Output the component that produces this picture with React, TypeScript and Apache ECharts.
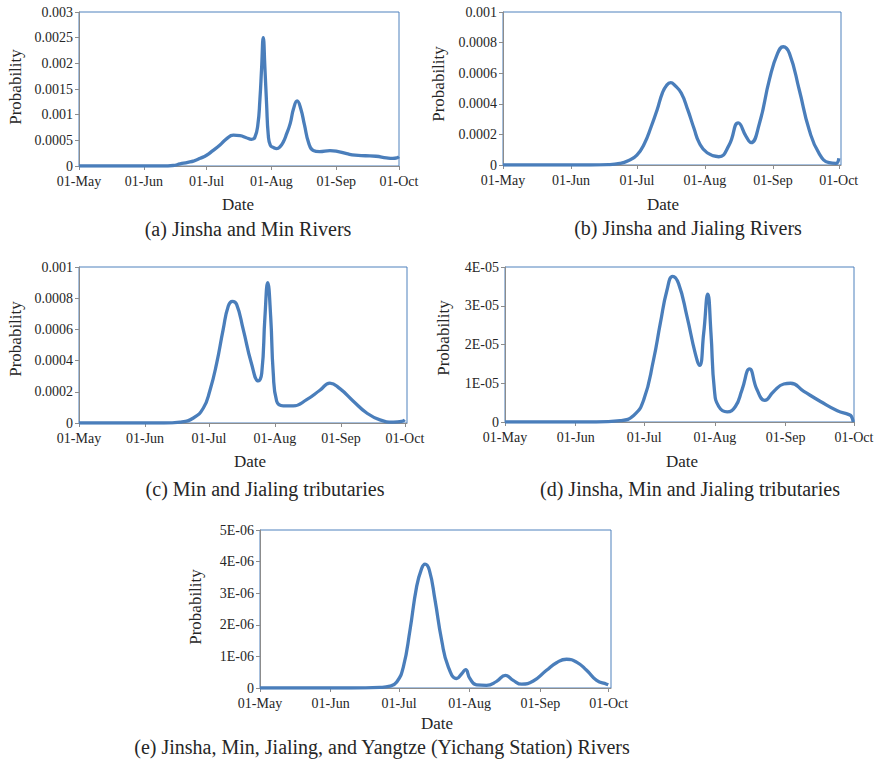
import React, { useEffect, useRef } from "react";
import * as echarts from "echarts";

// Day offsets from 1 May for the first of each month, and their labels
const monthDays = [0, 31, 61, 92, 123, 153];
const monthLabels = ["01-May", "01-Jun", "01-Jul", "01-Aug", "01-Sep", "01-Oct"];

// (a) Jinsha and Min Rivers
const daysA = [0, 20, 40, 45, 48.3, 52, 55, 58, 61, 64, 67.4, 70.5, 73.8, 77, 80, 82.5, 84, 85.5, 86.5, 87.3, 88.1, 88.9, 89.7, 90.5, 91.5, 93, 94.5, 96, 97.7, 99.3, 101, 102.6, 104.3, 106, 107.8, 109.8, 112, 115, 120, 124, 128, 132, 137, 142, 147, 150, 152, 153];
const probA = [0, 0, 0, 0.00001, 0.00004, 0.00007, 0.0001, 0.00015, 0.00021, 0.0003, 0.00041, 0.00053, 0.0006, 0.00059, 0.00055, 0.00052, 0.00055, 0.0008, 0.0013, 0.0019, 0.0025, 0.0019, 0.0012, 0.0006, 0.0004, 0.00036, 0.00034, 0.00037, 0.00047, 0.00063, 0.00083, 0.00112, 0.00127, 0.00112, 0.0008, 0.00045, 0.0003, 0.00028, 0.0003, 0.00028, 0.00024, 0.00021, 0.0002, 0.00019, 0.00016, 0.00015, 0.00016, 0.00018];
const yLabelsA = ["0", "0.0005", "0.001", "0.0015", "0.002", "0.0025", "0.003"];

// (b) Jinsha and Jialing Rivers
const daysB = [0, 20, 40, 48, 53.2, 57, 61, 64.5, 67.5, 70.2, 72.6, 74.5, 76.4, 78.3, 81.2, 84.2, 87, 89.5, 93, 98.3, 103, 107.2, 110.8, 113, 116.8, 121.4, 125.1, 127.7, 130.5, 135, 139.5, 144, 148.6, 151.7, 153];
const probB = [0, 0, 0, 0.000002, 0.00001, 0.000028, 0.000065, 0.000142, 0.00025, 0.00036, 0.00047, 0.00052, 0.000538, 0.00052, 0.00047, 0.00036, 0.00024, 0.000142, 0.00008, 0.000054, 0.00013, 0.000275, 0.000185, 0.000146, 0.00027, 0.00056, 0.00073, 0.000773, 0.00073, 0.00049, 0.00023, 0.000076, 0.000015, 0.00001, 0.000044];
const yLabelsB = ["0", "0.0002", "0.0004", "0.0006", "0.0008", "0.001"];

// (c) Min and Jialing tributaries
const daysC = [0, 20, 40, 47.4, 53.7, 58.4, 61.5, 64.6, 67.7, 70.1, 72, 74, 77.1, 81, 84.2, 85.8, 87.3, 88.6, 90, 91.2, 92.8, 95.9, 100.6, 106.9, 113.1, 117.8, 122.5, 128.8, 135.1, 141.3, 147.6, 151.5, 153];
const probC = [0, 0, 0, 0.000006, 0.000032, 0.000096, 0.00021, 0.00038, 0.0006, 0.00075, 0.00078, 0.00076, 0.0006, 0.00038, 0.00027, 0.00032, 0.00068, 0.0009, 0.00068, 0.00032, 0.00014, 0.00011, 0.00011, 0.00015, 0.00021, 0.000256, 0.00022, 0.00014, 0.000064, 0.00002, 0.000006, 0.00001, 0.00002];
const yLabelsC = ["0", "0.0002", "0.0004", "0.0006", "0.0008", "0.001"];

// (d) Jinsha, Min and Jialing tributaries
const daysD = [0, 20, 40, 50.5, 56.4, 60.8, 65.1, 68.1, 71, 73.5, 76.1, 79.8, 83.4, 85.3, 87.1, 88.9, 90.3, 91.8, 93.7, 97.4, 101, 103.9, 107.2, 110.5, 113.9, 117.8, 122.2, 125.2, 131, 138.3, 145.7, 150.8, 151.8, 152.7];
const probD = [0, 0, 0, 3.4e-7, 1.7e-6, 5.7e-6, 1.6e-5, 2.55e-5, 3.4e-5, 3.76e-5, 3.57e-5, 2.72e-5, 1.77e-5, 1.46e-5, 2.29e-5, 3.3e-5, 2.29e-5, 8.3e-6, 4e-6, 2.6e-6, 4e-6, 8.3e-6, 1.37e-5, 8.3e-6, 5.6e-6, 7.9e-6, 9.8e-6, 1.0e-5, 7.9e-6, 5.3e-6, 2.9e-6, 1.9e-6, 1.5e-6, 0];
const yLabelsD = ["0", "1E-05", "2E-05", "3E-05", "4E-05"];

// (e) Jinsha, Min, Jialing, and Yangtze (Yichang Station) Rivers
const daysE = [0, 20, 40, 52.6, 57, 60, 62.9, 65.8, 68.7, 70.9, 72.4, 74.3, 76.8, 79.7, 82.6, 86.3, 88.5, 90.2, 92.1, 95, 99.4, 103.8, 107.7, 111.1, 114.8, 119.9, 125.7, 130.1, 134.5, 138.9, 143.3, 147.7, 152.1, 152.8];
const probE = [0, 0, 0, 2e-8, 6e-8, 1.9e-7, 6.7e-7, 1.83e-6, 3.2e-6, 3.78e-6, 3.92e-6, 3.73e-6, 2.78e-6, 1.51e-6, 6.7e-7, 3e-7, 4.5e-7, 5.8e-7, 3e-7, 1e-7, 8.5e-8, 2.1e-7, 4e-7, 2.4e-7, 1.2e-7, 2.2e-7, 5.6e-7, 8e-7, 9.1e-7, 8.2e-7, 5.6e-7, 2.4e-7, 1.2e-7, 1e-7];
const yLabelsE = ["0", "1E-06", "2E-06", "3E-06", "4E-06", "5E-06"];

const FONT = "Liberation Serif";
const TEXT = "#262626";
const LINE = "#4A7EBB";
const AXIS = "#8C8C8C";
const BORDER = "#4F81BD";

const panels = [
  { days: daysA, probs: probA, yLabels: yLabelsA, yStep: 0.0005, xMax: 153, grid: { left: 79, top: 12, width: 320, height: 154 }, caption: "(a) Jinsha and Min Rivers", yTitle: [15, 87], xTitle: [238, 204], cap: [248, 229] },
  { days: daysB, probs: probB, yLabels: yLabelsB, yStep: 0.0002, xMax: 154, grid: { left: 503, top: 12, width: 338, height: 153 }, caption: "(b) Jinsha and Jialing Rivers", yTitle: [438, 84], xTitle: [663, 204], cap: [688, 228] },
  { days: daysC, probs: probC, yLabels: yLabelsC, yStep: 0.0002, xMax: 154, grid: { left: 79, top: 267, width: 328, height: 156 }, caption: "(c) Min and Jialing tributaries", yTitle: [15, 339], xTitle: [250, 461], cap: [265, 489] },
  { days: daysD, probs: probD, yLabels: yLabelsD, yStep: 1e-5, xMax: 153, grid: { left: 505, top: 267, width: 349, height: 155 }, caption: "(d) Jinsha, Min and Jialing tributaries", yTitle: [443, 338], xTitle: [682, 461], cap: [690, 489] },
  { days: daysE, probs: probE, yLabels: yLabelsE, yStep: 1e-6, xMax: 154, grid: { left: 260, top: 530, width: 351, height: 158 }, caption: "(e) Jinsha, Min, Jialing, and Yangtze (Yichang Station) Rivers", yTitle: [195, 607], xTitle: [437, 723], cap: [382, 747] },
];

function buildOption() {
  const grid: any[] = [];
  const xAxis: any[] = [];
  const yAxis: any[] = [];
  const series: any[] = [];
  const graphic: any[] = [];

  panels.forEach((p, i) => {
    grid.push({
      ...p.grid,
      show: true,
      borderColor: BORDER,
      borderWidth: 1,
      backgroundColor: "transparent",
    });
    xAxis.push({
      type: "value",
      gridIndex: i,
      min: 0,
      max: p.xMax,
      splitLine: { show: false },
      axisLine: { show: true, onZero: false, lineStyle: { color: AXIS, width: 1 } },
      axisTick: { show: true, customValues: monthDays, length: 4, lineStyle: { color: AXIS } },
      axisLabel: {
        customValues: monthDays,
        formatter: (v: number) => monthLabels[monthDays.indexOf(Math.round(v))] ?? "",
        margin: 8,
        fontFamily: FONT,
        fontSize: 14,
        color: TEXT,
      },
    });
    const step = p.yStep;
    yAxis.push({
      type: "value",
      gridIndex: i,
      min: 0,
      max: step * (p.yLabels.length - 1),
      interval: step,
      splitLine: { show: false },
      axisLine: { show: true, lineStyle: { color: AXIS, width: 1 } },
      axisTick: { show: true, length: 4, lineStyle: { color: AXIS } },
      axisLabel: {
        formatter: (v: number) => p.yLabels[Math.round(v / step)] ?? "",
        margin: 6,
        fontFamily: FONT,
        fontSize: 14,
        color: TEXT,
      },
    });
    series.push({
      type: "line",
      xAxisIndex: i,
      yAxisIndex: i,
      data: p.days.map((d, k) => [d, p.probs[k]]),
      showSymbol: false,
      smooth: 0.5,
      lineStyle: { color: LINE, width: 3.3 },
      z: 3,
    });
    graphic.push(
      {
        type: "text",
        x: p.yTitle[0],
        y: p.yTitle[1],
        rotation: Math.PI / 2,
        style: { text: "Probability", fontFamily: FONT, fontSize: 17, fill: TEXT, align: "center", verticalAlign: "middle" },
      },
      {
        type: "text",
        x: p.xTitle[0],
        y: p.xTitle[1],
        style: { text: "Date", fontFamily: FONT, fontSize: 17, fill: TEXT, align: "center", verticalAlign: "middle" },
      },
      {
        type: "text",
        x: p.cap[0],
        y: p.cap[1],
        style: { text: p.caption, fontFamily: FONT, fontSize: 20, fill: TEXT, align: "center", verticalAlign: "middle" },
      }
    );
  });

  return {
    animation: false,
    backgroundColor: "#ffffff",
    grid,
    xAxis,
    yAxis,
    series,
    graphic,
  };
}

export default function App() {
  const ref = useRef<HTMLDivElement>(null);

  useEffect(() => {
    if (!ref.current) return;
    const chart = echarts.init(ref.current, undefined, { renderer: "svg" });
    chart.setOption(buildOption() as any);
    return () => chart.dispose();
  }, []);

  return (
    <div
      ref={ref}
      style={{ position: "absolute", left: 0, top: 0, width: 882, height: 763 }}
    />
  );
}
